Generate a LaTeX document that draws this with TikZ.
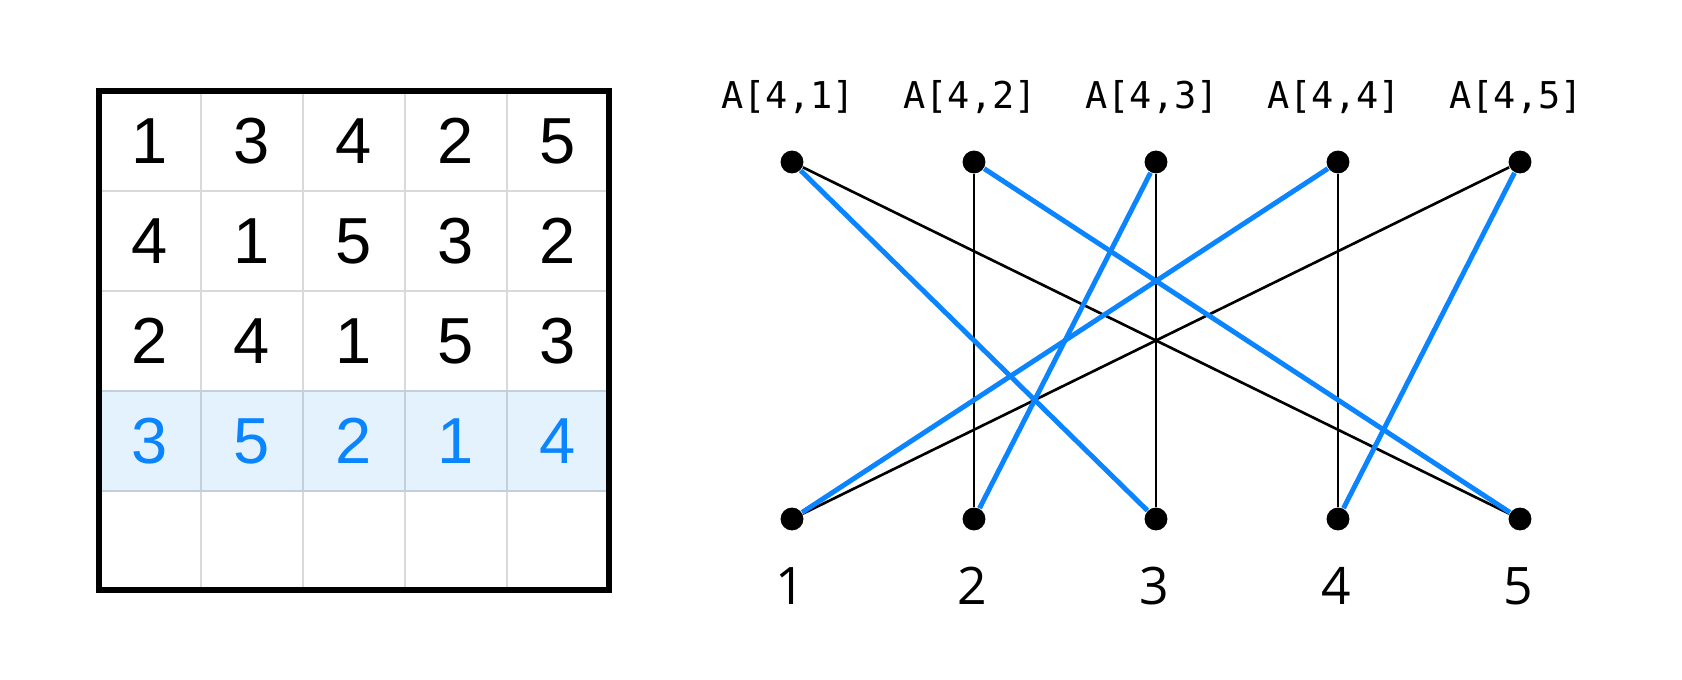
\documentclass[tikz,border=0pt]{standalone}
\usepackage{fontspec}
\setmainfont{Liberation Sans}
\newfontfamily\monofont{DejaVu Sans Mono}
\newfontfamily\numfont{Open Sans}
\usepackage{xcolor}
\usepackage{tikz}
\usetikzlibrary{positioning}

\definecolor{rowblue}{HTML}{0A84FF}
\definecolor{rowfill}{HTML}{E3F2FD}
\definecolor{gridgray}{HTML}{D9D9D9}
\definecolor{rowline}{HTML}{C3D0DC}

\tikzset{
  cellnum/.style={font=\fontsize{18.5}{20}\selectfont, inner sep=0pt},
  rownum/.style={cellnum, text=rowblue},
  dot/.style={circle, fill=black, inner sep=0pt, minimum size=6.5pt},
  toplabel/.style={font=\monofont\fontsize{10.5}{12}\selectfont, inner sep=0pt},
  botlabel/.style={font=\numfont\fontsize{14.7}{16}\selectfont, inner sep=0pt},
  plainedge/.style={black, line width=0.75pt},
  permedge/.style={rowblue, line width=1.4pt}
}

\begin{document}
\begin{tikzpicture}[x=0.01cm, y=-0.01cm]

  \useasboundingbox (0,0) rectangle (1682,680);

  % the square
  \fill[rowfill] (99,391) rectangle (609,491);

  \draw[gridgray, line width=0.6pt] (201,91) -- (201,590);
  \draw[gridgray, line width=0.6pt] (303,91) -- (303,590);
  \draw[gridgray, line width=0.6pt] (405,91) -- (405,590);
  \draw[gridgray, line width=0.6pt] (507,91) -- (507,590);
  \draw[gridgray, line width=0.6pt] (99,191) -- (609,191);
  \draw[gridgray, line width=0.6pt] (99,291) -- (609,291);
  \draw[rowline, line width=0.6pt] (201,391) -- (201,491);
  \draw[rowline, line width=0.6pt] (303,391) -- (303,491);
  \draw[rowline, line width=0.6pt] (405,391) -- (405,491);
  \draw[rowline, line width=0.6pt] (507,391) -- (507,491);
  \draw[rowline, line width=0.6pt] (99,391) -- (609,391);
  \draw[rowline, line width=0.6pt] (99,491) -- (609,491);

  \draw[line width=1.6pt] (99,91) rectangle (609,590);

  \node[cellnum] (c11) at (150,141) {1};
  \node[cellnum] (c12) at (252,141) {3};
  \node[cellnum] (c13) at (354,141) {4};
  \node[cellnum] (c14) at (456,141) {2};
  \node[cellnum] (c15) at (558,141) {5};

  \node[cellnum] (c21) at (150,241) {4};
  \node[cellnum] (c22) at (252,241) {1};
  \node[cellnum] (c23) at (354,241) {5};
  \node[cellnum] (c24) at (456,241) {3};
  \node[cellnum] (c25) at (558,241) {2};

  \node[cellnum] (c31) at (150,341) {2};
  \node[cellnum] (c32) at (252,341) {4};
  \node[cellnum] (c33) at (354,341) {1};
  \node[cellnum] (c34) at (456,341) {5};
  \node[cellnum] (c35) at (558,341) {3};

  \node[rownum] (c41) at (150,441) {3};
  \node[rownum] (c42) at (252,441) {5};
  \node[rownum] (c43) at (354,441) {2};
  \node[rownum] (c44) at (456,441) {1};
  \node[rownum] (c45) at (558,441) {4};

  % the two rows of dots
  \node[dot] (t1) at (792,162) {};
  \node[dot] (t2) at (974,162) {};
  \node[dot] (t3) at (1156,162) {};
  \node[dot] (t4) at (1338,162) {};
  \node[dot] (t5) at (1520,162) {};

  \node[dot] (b1) at (792,519) {};
  \node[dot] (b2) at (974,519) {};
  \node[dot] (b3) at (1156,519) {};
  \node[dot] (b4) at (1338,519) {};
  \node[dot] (b5) at (1520,519) {};

  \node[toplabel] (l1) at (788,97) {A[4,1]};
  \node[toplabel] (l2) at (970,97) {A[4,2]};
  \node[toplabel] (l3) at (1152,97) {A[4,3]};
  \node[toplabel] (l4) at (1334,97) {A[4,4]};
  \node[toplabel] (l5) at (1516,97) {A[4,5]};

  \node[botlabel] (n1) at (790,586) {1};
  \node[botlabel] (n2) at (972,586) {2};
  \node[botlabel] (n3) at (1154,586) {3};
  \node[botlabel] (n4) at (1336,586) {4};
  \node[botlabel] (n5) at (1518,586) {5};

  % edges
  \draw[plainedge] (t1) -- (b5);
  \draw[plainedge] (t2) -- (b2);
  \draw[plainedge] (t3) -- (b3);
  \draw[plainedge] (t4) -- (b4);
  \draw[plainedge] (t5) -- (b1);

  \draw[permedge] (t1) -- (b3);
  \draw[permedge] (t2) -- (b5);
  \draw[permedge] (t3) -- (b2);
  \draw[permedge] (t4) -- (b1);
  \draw[permedge] (t5) -- (b4);

\end{tikzpicture}
\end{document}
